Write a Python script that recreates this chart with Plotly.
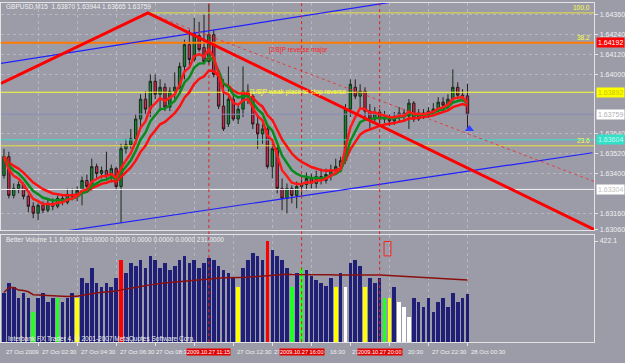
import plotly.graph_objects as go
import pandas as pd

W, H = 625, 363
BG = "#9c9ca8"
FONT = "Liberation Sans"

# ---------------- data ----------------
bar_index = list(range(96))
opens = [1.63388,1.63502,1.63268,1.63310,1.63334,1.63262,1.63202,1.63160,1.63208,1.63178,
         1.63220,1.63202,1.63250,1.63226,1.63274,1.63262,1.63298,1.63358,1.63322,1.63442,
         1.63400,1.63418,1.63382,1.63430,1.63322,1.63550,1.63574,1.63610,1.63730,1.63850,
         1.63790,1.63958,1.63880,1.63922,1.63802,1.63898,1.63922,1.64048,1.64180,1.64090,
         1.64234,1.64162,1.64078,1.64240,1.64000,1.63808,1.63700,1.63850,1.63730,1.63790,
         1.63898,1.63868,1.63700,1.63640,1.63670,1.63442,1.63550,1.63310,1.63250,1.63310,
         1.63268,1.63322,1.63334,1.63370,1.63340,1.63382,1.63358,1.63394,1.63418,1.63442,
         1.63478,1.63790,1.63922,1.63868,1.63898,1.63778,1.63730,1.63772,1.63730,1.63742,
         1.63718,1.63742,1.63766,1.63748,1.63826,1.63730,1.63766,1.63754,1.63778,1.63790,
         1.63832,1.63814,1.63850,1.63922,1.63874,1.63870]
highs = [1.63550,1.63532,1.63340,1.63352,1.63346,1.63274,1.63226,1.63220,1.63232,1.63250,
         1.63250,1.63268,1.63274,1.63310,1.63310,1.63322,1.63382,1.63394,1.63490,1.63460,
         1.63442,1.63532,1.63454,1.63442,1.63580,1.63610,1.63670,1.63760,1.63880,1.63898,
         1.64000,1.64000,1.63970,1.63946,1.63922,1.64012,1.64072,1.64210,1.64270,1.64342,
         1.64318,1.64360,1.64425,1.64270,1.64018,1.63970,1.64048,1.63880,1.63820,1.64048,
         1.63940,1.63880,1.63742,1.63700,1.63682,1.63580,1.63562,1.63370,1.63340,1.63328,
         1.63352,1.63382,1.63406,1.63400,1.63418,1.63430,1.63430,1.63454,1.63490,1.63502,
         1.63820,1.63970,1.63970,1.63940,1.63922,1.63820,1.63802,1.63790,1.63778,1.63760,
         1.63772,1.63802,1.63790,1.63850,1.63838,1.63790,1.63790,1.63802,1.63826,1.63862,
         1.63862,1.63880,1.64030,1.63952,1.63910,1.63944]
lows = [1.63370,1.63250,1.63250,1.63280,1.63244,1.63166,1.63130,1.63118,1.63160,1.63166,
        1.63178,1.63190,1.63208,1.63214,1.63238,1.63232,1.63208,1.63298,1.63298,1.63370,
        1.63370,1.63358,1.63346,1.63298,1.63100,1.63520,1.63550,1.63574,1.63682,1.63760,
        1.63742,1.63850,1.63778,1.63778,1.63778,1.63850,1.63910,1.63970,1.64054,1.64078,
        1.64138,1.64060,1.64060,1.63982,1.63790,1.63658,1.63682,1.63718,1.63700,1.63742,
        1.63820,1.63670,1.63550,1.63580,1.63430,1.63370,1.63280,1.63178,1.63160,1.63220,
        1.63190,1.63250,1.63298,1.63310,1.63310,1.63334,1.63340,1.63358,1.63394,1.63418,
        1.63460,1.63742,1.63850,1.63790,1.63742,1.63670,1.63706,1.63700,1.63706,1.63688,
        1.63694,1.63718,1.63718,1.63670,1.63712,1.63718,1.63730,1.63736,1.63754,1.63766,
        1.63778,1.63790,1.63832,1.63850,1.63838,1.63665]
closes = [1.63502,1.63268,1.63310,1.63334,1.63262,1.63202,1.63160,1.63208,1.63178,1.63220,
          1.63202,1.63250,1.63226,1.63274,1.63262,1.63298,1.63358,1.63322,1.63442,1.63400,
          1.63418,1.63382,1.63430,1.63322,1.63550,1.63574,1.63610,1.63730,1.63850,1.63790,
          1.63958,1.63880,1.63922,1.63802,1.63898,1.63922,1.64048,1.64180,1.64090,1.64246,
          1.64150,1.64078,1.64240,1.64000,1.63808,1.63670,1.63850,1.63730,1.63790,1.63898,
          1.63868,1.63700,1.63640,1.63670,1.63442,1.63550,1.63310,1.63250,1.63310,1.63268,
          1.63322,1.63334,1.63370,1.63340,1.63382,1.63358,1.63394,1.63418,1.63442,1.63478,
          1.63790,1.63940,1.63868,1.63898,1.63778,1.63730,1.63772,1.63730,1.63742,1.63718,
          1.63742,1.63766,1.63748,1.63826,1.63730,1.63766,1.63754,1.63778,1.63790,1.63832,
          1.63814,1.63850,1.63922,1.63874,1.63868,1.63759]
volumes = [207,248,228,186,207,186,124,186,207,166,
           186,186,166,186,207,186,269,248,311,248,
           228,248,228,269,344,290,331,319,344,311,
           360,344,311,331,302,319,344,360,331,344,
           311,331,352,344,319,302,290,269,228,311,
           344,373,360,344,422,385,360,344,311,228,
           290,311,302,277,261,248,236,269,228,290,
           228,331,344,319,228,269,248,269,186,186,
           228,166,145,104,186,166,145,186,124,166,
           186,145,207,166,186,199]
# Better Volume bar classes: N=normal, R=climax, G=low-vol churn, Y=low volume, W=churn
vol_class = list("NNNNNNGNNNNGNNNYNNNNNNNNRNNNNNNNNNNNNNNNNNNNNNNNYNNNNNRNNNNGNGNNNNNNYNWNNNYNNNGYNWWWNNNNNNNNNNNN")
class_colors = {"N": "#1f1f78", "R": "#ff0000", "G": "#22ff22", "Y": "#ffff00", "W": "#ffffff"}

# horizontal levels
level_prices = [1.64192, 1.63892, 1.63604, 1.63304]
level_colors = ["#ff7a00", "#ffff33", "#33e0d0", "#f4f4f4"]
level_widths = [2, 1, 1, 1]
level_box_colors = ["#ff0000", "#ffff00", "#33e0c8", "#ffffff"]
level_text_colors = ["#ffffff", "#c8c800", "#c8f8f0", "#c0c0c0"]
fib_prices = [1.64372, 1.64192, 1.63568]
fib_labels = ["100.0", "38.2", "23.6"]
fib_start_bars = [29.5, -0.6, -0.6]
murrey_label_prices = [1.64192, 1.63892]
murrey_labels = ["[2/8]P reverse major", "[1/8]P weak place to stop reverse"]
murrey_label_bars = [54.0, 50.0]
murrey_label_colors = ["#ff2020", "#ffff40"]

bid_price = 1.63759

# trend lines (bar index, price)
red_trend_bars = [-0.61, 29.5, 121.2]
red_trend_prices = [1.63946, 1.64372, 1.63058]
red_dot_bars = [29.5, 121.0]
red_dot_prices = [1.64372, 1.63352]
blue_up_bars = [-0.61, 82.2]
blue_up_prices = [1.64066, 1.64450]
blue_lo_bars = [-0.61, 120.6]
blue_lo_prices = [1.62994, 1.63526]

arrow_bar = [95.4]
arrow_price = [1.63670]

vline_bars = [42, 61, 77]
vline_labels = ["2009.10.27 11:15", "2009.10.27 16:00", "2009.10.27 20:00"]

# time axis labels (the parts not hidden behind the red vertical-line labels)
time_label_bars = [-0.45, 7, 15, 23, 31, 47, 55, 63, 71, 79, 87, 95]
time_labels = ["27 Oct 2009", "27 Oct 02:30", "27 Oct 04:30", "27 Oct 06:30", "27 Oct 08:30",
               "27 Oct 12:30", "27", "16:30", "27", "20:30", "27 Oct 22:30", "28 Oct 00:30"]
time_label_shift = [2, 2, 2, 2, -1, 2, 0, 17, 0, 17, 2, 2]
grid_bars = [7, 15, 23, 31, 39, 47, 55, 63, 71, 79, 87, 95]

# price scale labels (those hidden behind the coloured level boxes are left out)
price_ticks = [1.64360, 1.64240, 1.64120, 1.64000, 1.63640,
               1.63520, 1.63400, 1.63160, 1.63060]
vol_max_label = 422.1

box_bars = [77.9, 79.3]
box_vols = [360, 420]

# ---------------- geometry ----------------
def py(px):
    return 1 - px / H

x_range = [-0.606, 121.0]
price_range = [1.63058, 1.64432]
vol_range = [0, 447]
x_dom = [0, 602 / W]
price_dom = [py(232), py(3)]
vol_dom = [py(345), py(237)]

s = pd.Series(closes)
ma_red_fast = s.ewm(span=5, adjust=False).mean()
ma_green = s.ewm(span=8, adjust=False).mean()
ma_red_slow = s.ewm(span=13, adjust=False).mean()
vol_ma = pd.Series(volumes, dtype=float).expanding().mean()

fig = go.Figure()

for p, c, w in zip(level_prices, level_colors, level_widths):
    fig.add_trace(go.Scatter(x=[x_range[0], x_range[1]], y=[p, p], mode="lines",
                             line=dict(color=c, width=w), hoverinfo="skip"))
for p, b in zip(fib_prices[::2], fib_start_bars[::2]):
    fig.add_trace(go.Scatter(x=[b, x_range[1]], y=[p, p], mode="lines",
                             line=dict(color="#e8e040", width=1), hoverinfo="skip"))
fig.add_trace(go.Scatter(x=[x_range[0], x_range[1]], y=[bid_price, bid_price], mode="lines",
                         line=dict(color="#8a8ab8", width=1), hoverinfo="skip"))

fig.add_trace(go.Scatter(x=blue_up_bars, y=blue_up_prices, mode="lines",
                         line=dict(color="#2020ff", width=1.2), hoverinfo="skip"))
fig.add_trace(go.Scatter(x=blue_lo_bars, y=blue_lo_prices, mode="lines",
                         line=dict(color="#2020ff", width=1.2), hoverinfo="skip"))
fig.add_trace(go.Scatter(x=red_dot_bars, y=red_dot_prices, mode="lines",
                         line=dict(color="#e04040", width=1, dash="dot"), hoverinfo="skip"))

fig.add_trace(go.Candlestick(x=bar_index, open=opens, high=highs, low=lows, close=closes,
                             increasing=dict(line=dict(color="#1a2a1a", width=1), fillcolor="#108a30"),
                             decreasing=dict(line=dict(color="#2a1a1a", width=1), fillcolor="#d0284c"),
                             whiskerwidth=0, hoverinfo="skip"))

fig.add_trace(go.Scatter(x=bar_index, y=ma_red_slow, mode="lines",
                         line=dict(color="#ff1010", width=2.5), hoverinfo="skip"))
fig.add_trace(go.Scatter(x=bar_index, y=ma_green, mode="lines",
                         line=dict(color="#0a8a1a", width=2.5), hoverinfo="skip"))
fig.add_trace(go.Scatter(x=bar_index, y=ma_red_fast, mode="lines",
                         line=dict(color="#ff1a1a", width=2.5), hoverinfo="skip"))

fig.add_trace(go.Scatter(x=red_trend_bars, y=red_trend_prices, mode="lines",
                         line=dict(color="#ff0000", width=3), hoverinfo="skip"))

fig.add_trace(go.Scatter(x=arrow_bar, y=arrow_price, mode="markers",
                         marker=dict(symbol="triangle-up", size=8, color="#3040ff"), hoverinfo="skip"))

fig.add_trace(go.Bar(x=bar_index, y=volumes,
                     marker=dict(color=[class_colors[c] for c in vol_class], line=dict(width=0)),
                     width=0.74, xaxis="x2", yaxis="y2", hoverinfo="skip"))
fig.add_trace(go.Scatter(x=bar_index, y=vol_ma, mode="lines", line=dict(color="#8a1010", width=1.5),
                         xaxis="x2", yaxis="y2", hoverinfo="skip"))

shapes = []
for b in vline_bars:
    shapes.append(dict(type="line", xref="x", yref="paper", x0=b, x1=b, y0=vol_dom[0], y1=price_dom[1],
                       line=dict(color="#e02020", width=1, dash="dot"), layer="above"))
shapes.append(dict(type="rect", xref="x2", yref="y2", x0=box_bars[0], x1=box_bars[1],
                   y0=box_vols[0], y1=box_vols[1], line=dict(color="#ff2020", width=1)))

small = dict(size=6.5, color="#f0f0f0", family=FONT)
tiny = dict(size=6, color="#f0f0f0", family=FONT)
ann = []
ann.append(dict(x=0.005, y=py(7), xref="paper", yref="paper", xanchor="left", yanchor="middle",
                text="GBPUSD,M15  1.63870 1.63944 1.63665 1.63759", showarrow=False, font=small))
ann.append(dict(x=0.005, y=py(241), xref="paper", yref="paper", xanchor="left", yanchor="middle",
                text="Better Volume 1.1 6.0000 199.0000 0.0000 0.0000 0.0000 0.0000 231.0000",
                showarrow=False, font=small))
ann.append(dict(x=0.008, y=py(342), xref="paper", yref="paper", xanchor="left", yanchor="middle",
                text="Interbank FX Trader 4, © 2001-2007 MetaQuotes Software Corp.",
                showarrow=False, font=small))
ann.append(dict(x=murrey_label_bars[0], y=murrey_label_prices[0], xref="x", yref="y", xanchor="left",
                yanchor="top", yshift=-1, text=murrey_labels[0], showarrow=False,
                font=dict(size=6.5, color=murrey_label_colors[0], family=FONT)))
ann.append(dict(x=murrey_label_bars[1], y=murrey_label_prices[1], xref="x", yref="y", xanchor="left",
                yanchor="middle", text=murrey_labels[1], showarrow=False,
                font=dict(size=6.5, color=murrey_label_colors[1], family=FONT)))
for p, t in zip(fib_prices, fib_labels):
    ann.append(dict(x=x_range[1], y=p, xref="x", yref="y", xanchor="right", yanchor="bottom",
                    xshift=-2, text=t, showarrow=False, font=dict(size=6.5, color="#ffff40", family=FONT)))
for p, bc, tc in zip(level_prices + [bid_price], level_box_colors + ["#ffffff"],
                     level_text_colors + ["#b0b0b0"]):
    ann.append(dict(x=x_dom[1] + 0.002, y=p, xref="paper", yref="y", xanchor="left", yanchor="middle",
                    text=f"{p:.5f}", showarrow=False, bgcolor=bc, borderpad=1,
                    font=dict(size=7, color=tc, family=FONT)))
for b, t, sh in zip(time_label_bars, time_labels, time_label_shift):
    ann.append(dict(x=b, y=py(355), xref="x2", yref="paper", xanchor="left", yanchor="middle",
                    text=t, showarrow=False, xshift=sh, font=tiny))
for b, t in zip(vline_bars, vline_labels):
    ann.append(dict(x=b, y=py(355), xref="x2", yref="paper", xanchor="center", yanchor="middle",
                    text=t, showarrow=False, bgcolor="#e00000", borderpad=0,
                    font=dict(size=5.6, color="#ffffff", family=FONT)))

axis_common = dict(showline=True, linecolor="#e4e4e4", linewidth=1, mirror=True, zeroline=False)
fig.update_layout(
    width=W, height=H, margin=dict(l=0, r=0, t=0, b=0),
    paper_bgcolor=BG, plot_bgcolor=BG, showlegend=False, bargap=0,
    font=dict(family=FONT, size=7, color="#f0f0f0"),
    xaxis=dict(domain=x_dom, range=x_range, anchor="y", showticklabels=False,
               tickvals=grid_bars, showgrid=True, gridcolor="#b6b6c0", griddash="dot",
               rangeslider=dict(visible=False), **axis_common),
    yaxis=dict(domain=price_dom, range=price_range, anchor="x", side="right",
               tickvals=price_ticks, tickformat=".5f", ticks="outside", ticklen=3, tickcolor="#e4e4e4",
               tickfont=dict(size=7, color="#f0f0f0", family=FONT),
               showgrid=True, gridcolor="#b6b6c0", griddash="dot", **axis_common),
    xaxis2=dict(domain=x_dom, range=x_range, anchor="y2", matches="x", showticklabels=False,
                tickvals=grid_bars, ticks="outside", ticklen=3, tickcolor="#e4e4e4",
                showgrid=True, gridcolor="#b6b6c0", griddash="dot", **axis_common),
    yaxis2=dict(domain=vol_dom, range=vol_range, anchor="x2", side="right",
                tickvals=[vol_max_label], ticktext=[f"{vol_max_label:.1f}"], ticks="outside",
                ticklen=3, tickcolor="#e4e4e4", tickfont=dict(size=7, color="#f0f0f0", family=FONT),
                showgrid=False, **axis_common),
    shapes=shapes, annotations=ann,
)

fig.write_html("out.html")
